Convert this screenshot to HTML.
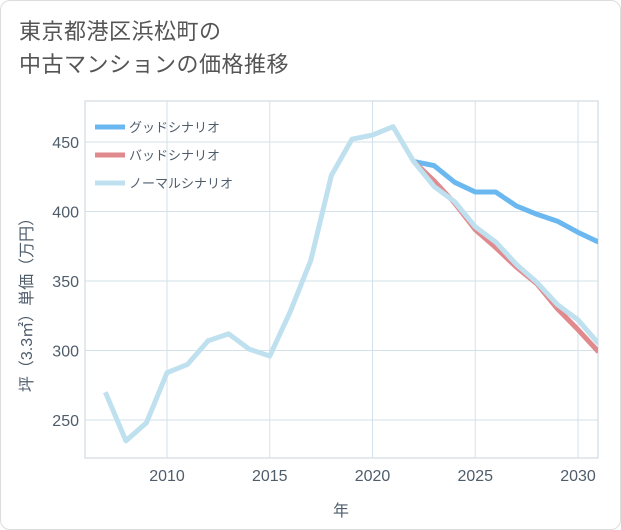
<!DOCTYPE html>
<html><head><meta charset="utf-8"><style>
body{margin:0;background:#fff;font-family:"Liberation Sans","Noto Sans CJK JP",sans-serif;}
#card{position:absolute;left:0;top:0;width:619px;height:528px;border:1px solid #ddd;border-radius:10px;background:#fff;overflow:hidden}
#title{position:absolute;left:18px;top:14px;font-size:22px;line-height:33px;color:#555;letter-spacing:0.5px}
</style></head><body>
<div id="card">
<div id="title">東京都港区浜松町の<br>中古マンションの価格推移</div>
<svg id="chart" width="621" height="530" style="position:absolute;left:0;top:0"></svg>
</div>
<script>
const years=[2007,2008,2009,2010,2011,2012,2013,2014,2015,2016,2017,2018,2019,2020,2021,2022,2023,2024,2025,2026,2027,2028,2029,2030,2031];
const normalVals=[270,235,248,284,290,307,312,301,296,328,365,426,452,455,461,436,418,407,389,378,362,349,333,322,305];
const goodYears=[2022,2023,2024,2025,2026,2027,2028,2029,2030,2031];
const goodVals=[436,433,421,414,414,404,398,393,385,378];
const badVals=[436,422,406,387,374,360,348,330,315,299];
const xTicks=[2010,2015,2020,2025,2030];
const yTicks=[250,300,350,400,450];
const NS="http://www.w3.org/2000/svg";
const svg=document.getElementById('chart');
const L=84,R=597,T=100,B=457;
const TXT='#4f5d6b';
const x=v=>166+(v-2010)*20.55;
const y=v=>419-(v-250)*1.39;
function mk(t,a){const e=document.createElementNS(NS,t);for(const k in a)e.setAttribute(k,a[k]);svg.appendChild(e);return e;}
let r=mk('rect',{x:L,y:T,width:R-L,height:B-T,fill:'none',stroke:'#c8d3dc'});


xTicks.forEach(t=>{let g=mk('line',{x1:x(t),x2:x(t),y1:T,y2:B,stroke:'#d3e1ea'});


let tx=mk('text',{x:x(t),y:480,'text-anchor':'middle','font-size':16,fill:TXT});tx.textContent=t;

});
yTicks.forEach(t=>{let g=mk('line',{x1:L,x2:R,y1:y(t),y2:y(t),stroke:'#d3e1ea'});


let tx=mk('text',{x:78,y:y(t)+6,'text-anchor':'end','font-size':16,fill:TXT});tx.textContent=t;

});
let xt=mk('text',{x:340,y:515,'text-anchor':'middle','font-size':16,fill:TXT});xt.textContent='年';


let yt=mk('text',{x:0,y:0,'text-anchor':'middle','font-size':16,fill:TXT,transform:'translate(31,300) rotate(-90)'});yt.textContent='坪（3.3㎡）単価（万円）';


function line(xs,vs,color,name){let p=mk('polyline',{points:xs.map((v,i)=>x(v)+','+y(vs[i])).join(' '),fill:'none',stroke:color,'stroke-width':5,'stroke-linejoin':'round','clip-path':'url(#clip)'});

}
let defs=mk('defs',{});defs.innerHTML='<clipPath id="clip"><rect x="'+L+'" y="'+T+'" width="'+(R-L)+'" height="'+(B-T)+'"/></clipPath>';
line(goodYears,goodVals,'#6bb8f0','good-scenario-line');
line(goodYears,badVals,'#e08a8e','bad-scenario-line');
line(years,normalVals,'#bfe0ee','normal-scenario-line');
[['グッドシナリオ','#6bb8f0'],['バッドシナリオ','#e08a8e'],['ノーマルシナリオ','#bfe0ee']].forEach((l,i)=>{
let ly=126+i*28;
let s=mk('line',{x1:94,x2:124,y1:ly,y2:ly,stroke:l[1],'stroke-width':5});


let t=mk('text',{x:128,y:ly+5,'font-size':13,fill:TXT});t.textContent=l[0];

});
</script>
</body></html>
